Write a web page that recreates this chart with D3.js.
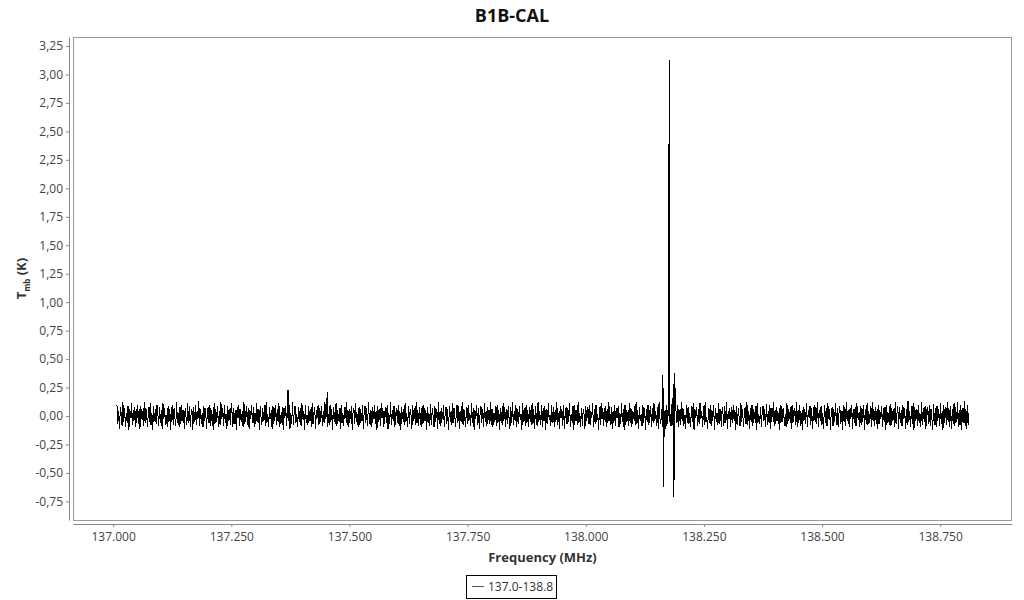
<!DOCTYPE html>
<html>
<head>
<meta charset="utf-8">
<script src="https://cdn.jsdelivr.net/npm/d3@7"></script>
<style>
  body { margin: 0; background: #fff; }
  text { font-family: "Open Sans", "Noto Sans", sans-serif; }
</style>
</head>
<body>
<svg width="1024" height="600"></svg>
<script>
// spectrum header: first and last channel (MHz)
const freqStart = 137.008;
const freqEnd = 138.810;

// baseline channel values (K)
const noise = [
  0.10,-0.07,0.04,-0.11,0.08,0.02,-0.09,0.12,-0.05,0.07,-0.10,0.03,-0.06,0.09,-0.12,0.06,-0.02,0.11,-0.08,0.05,
  -0.04,0.08,-0.10,0.01,0.10,-0.07,0.06,-0.11,0.09,-0.03,0.04,-0.09,0.12,-0.06,0.07,-0.01,-0.10,0.08,-0.05,0.11,
  -0.08,0.03,-0.12,0.09,-0.04,0.06,-0.07,0.10,0.02,-0.09,0.08,-0.06,0.05,-0.11,0.11,-0.03,0.07,-0.08,0.01,-0.10,
  0.09,-0.05,0.06,-0.12,0.04,0.10,-0.08,0.07,-0.02,-0.09,0.12,-0.06,0.03,-0.10,0.08,-0.07,0.10,-0.04,0.05,-0.11,
  0.07,-0.01,-0.08,0.11,-0.06,0.09,-0.10,0.02,0.06,-0.12,0.08,-0.05,0.10,-0.08,0.04,-0.03,0.13,-0.09,0.06,-0.07,
  0.03,-0.10,0.09,-0.04,0.07,-0.11,0.01,0.08,-0.06,0.10,-0.09,0.05,-0.02,-0.12,0.11,-0.07,0.06,-0.05,0.09,-0.10,
  0.04,-0.08,0.12,-0.03,0.07,-0.09,0.10,-0.06,0.02,-0.11,0.09,-0.04,0.06,-0.08,0.11,0.03,-0.10,0.07,-0.07,0.05,
  -0.12,0.08,-0.02,0.10,-0.09,0.06,-0.05,0.04,-0.10,0.12,-0.07,0.01,0.09,-0.08,0.07,-0.11,0.05,-0.03,0.10,-0.06,
  0.08,-0.10,0.03,-0.07,0.11,-0.05,0.06,-0.12,0.09,-0.01,-0.08,0.07,-0.04,0.10,-0.09,0.12,-0.06,0.02,-0.10,0.08,
  -0.03,0.05,-0.11,0.09,-0.07,0.04,0.10,-0.08,0.06,-0.05,0.11,-0.10,0.01,-0.06,0.08,-0.12,0.07,-0.02,0.09,-0.09,
  0.06,-0.04,0.10,-0.11,0.03,-0.07,0.12,-0.08,0.05,0.09,-0.06,0.02,-0.10,0.08,-0.05,0.07,-0.09,0.11,-0.03,0.04,
  -0.12,0.10,-0.06,0.01,-0.08,0.09,-0.04,0.06,-0.10,0.11,-0.07,0.03,0.08,-0.11,0.05,-0.02,0.10,-0.08,0.07,-0.05,
  0.09,-0.09,0.04,-0.06,0.12,-0.03,0.07,-0.10,0.02,-0.08,0.10,-0.05,0.06,-0.12,0.08,0.01,-0.07,0.11,-0.09,0.05,
  -0.04,0.07,-0.11,0.10,-0.06,0.03,-0.09,0.08,-0.02,0.12,-0.08,0.05,-0.10,0.06,-0.03,0.09,-0.12,0.04,0.07,-0.07,
  0.11,-0.05,0.02,-0.10,0.08,-0.08,0.06,-0.04,0.10,-0.11,0.03,0.09,-0.06,0.07,-0.09,0.12,-0.01,-0.08,0.05,-0.10,
  0.08,-0.03,0.10,-0.07,0.04,-0.12,0.09,-0.05,0.06,-0.09,0.11,-0.02,0.07,-0.10,0.01,0.08,-0.06,0.10,-0.11,0.03,
  -0.07,0.12,-0.08,0.05,-0.04,0.09,-0.10,0.02,0.07,-0.06,0.10,-0.09,0.04,-0.12,0.08,-0.03,0.06,-0.08,0.11,-0.05,
  0.03,-0.10,0.09,-0.07,0.06,0.01,-0.11,0.10,-0.04,0.07,-0.08,0.12,-0.06,0.05,-0.09,0.08,-0.02,-0.10,0.09,-0.07,
  0.10,-0.04,0.05,-0.12,0.08,-0.06,0.03,-0.09,0.11,-0.08,0.07,-0.01,-0.10,0.09,-0.05,0.06,-0.11,0.12,-0.07,0.04,
  -0.09,0.07,-0.03,0.10,-0.10,0.02,0.08,-0.07,0.06,-0.12,0.09,-0.05,0.04,-0.08,0.11,-0.06,0.07,-0.10,0.01,0.10,
  -0.06,0.09,-0.11,0.04,-0.05,0.12,-0.08,0.06,-0.02,-0.10,0.08,-0.07,0.10,-0.04,0.03,-0.09,0.11,-0.06,0.07,-0.12,
  0.05,-0.03,0.10,-0.08,0.07,-0.11,0.02,0.09,-0.06,0.06,-0.10,0.11,-0.05,0.04,-0.09,0.08,-0.01,-0.07,0.12,-0.08,
  0.06,-0.10,0.03,-0.05,0.09,-0.09,0.10,-0.06,0.05,-0.12,0.07,0.01,-0.08,0.11,-0.04,0.08,-0.10,0.06,-0.07,0.09,
  -0.02,-0.11,0.08,-0.06,0.12,-0.08,0.04,-0.04,0.10,-0.10,0.06,-0.07,0.09,-0.03,0.02,-0.12,0.11,-0.05,0.07,-0.09,
  0.10,-0.06,0.05,-0.10,0.08,0.03,-0.08,0.11,-0.07,0.06,-0.11,0.09,-0.02,-0.09,0.12,-0.05,0.04,-0.08,0.10,-0.10,
  0.07,-0.04,0.09,-0.12,0.06,-0.07,0.11,-0.03,0.01,-0.09,0.10,-0.06,0.08,-0.10,0.05,-0.05,0.12,-0.08,0.03,-0.11,
  0.09,-0.02,0.06,-0.09,0.10,-0.11,0.04,0.08,-0.07,0.07,-0.05,0.11,-0.10,0.02,-0.06,0.09,-0.12,0.10,-0.04,0.05,
  -0.08,0.12,-0.06,0.03,-0.10,0.07,-0.09,0.06,0.01,-0.11,0.09,-0.04,0.08,-0.07,0.10,-0.08,0.04,-0.02,0.11,-0.10,
  0.06,-0.07,0.10,-0.05,0.02,-0.12,0.08,-0.08,0.11,-0.03,0.07,-0.09,0.05,0.09,-0.10,0.06,-0.06,0.12,-0.01,-0.08,
  0.08,-0.11,0.04,-0.06,0.10,-0.09,0.07,-0.02,0.09,-0.10,0.03,-0.07,0.11,-0.05,0.06,-0.12,0.10,-0.08,0.05,0.01,
  -0.09,0.11,-0.06,0.07,-0.10,0.04,-0.03,0.09,-0.08,0.12,-0.07,0.05,-0.11,0.08,-0.04,0.02,-0.09,0.10,-0.06,0.07,
  -0.12,0.06,-0.05,0.10,-0.08,0.03,0.09,-0.10,0.07,-0.06,0.11,-0.04,0.04,-0.09,0.08,-0.11,0.12,-0.02,-0.07,0.06,
  -0.10,0.09,-0.03,0.05,-0.11,0.10,-0.07,0.08,-0.05,0.02,-0.09,0.11,-0.08,0.06,-0.12,0.07,0.04,-0.06,0.10,-0.10,
  0.05,-0.08,0.12,-0.04,0.07,-0.09,0.01,-0.11,0.10,-0.06,0.08,-0.07,0.03,-0.10,0.09,-0.05,0.11,-0.12,0.06,-0.02,
  0.08,-0.09,0.06,-0.07,0.11,-0.03,0.04,-0.10,0.09,-0.08,0.12,-0.05,-0.01,-0.11,0.07,-0.06,0.10,-0.09,0.05,-0.04,
  0.10,-0.12,0.07,-0.05,0.03,-0.08,0.11,-0.07,0.06,-0.10,0.08,0.02,-0.09,0.09,-0.06,0.12,-0.11,0.04,-0.03,0.07,
  -0.10,0.08,-0.06,0.10,-0.04,0.05,-0.12,0.09,-0.08,0.07,-0.02,-0.09,0.11,-0.05,0.06,-0.10,0.03,0.08,-0.07,0.12,
  -0.08,0.04,-0.11,0.07,-0.05,0.10,-0.09,0.06,-0.03,0.09,-0.12,0.11,-0.06,0.02,-0.07,0.08,-0.10,0.05,0.09,-0.04,
  0.06,-0.10,0.11,-0.08,0.04,-0.06,0.10,-0.11,0.07,-0.01,0.12,-0.09,0.05,-0.07,0.08,-0.04,0.03,-0.12,0.10,-0.06,
  0.09,-0.05,0.07,-0.09,0.02,-0.10,0.11,-0.07,0.06,-0.03,0.08,-0.11,0.10,-0.06,0.04,0.07,-0.08,0.12,-0.10,0.05,
  -0.06,0.10,-0.09,0.03,-0.12,0.08,-0.04,0.06,-0.07,0.11,-0.10,0.05,-0.02,0.09,-0.08,0.07,-0.11,0.01,0.10,-0.05,
  0.08,-0.07,0.12,-0.10,0.05,-0.04,0.09,-0.08,0.03,-0.11,0.10,-0.06,0.07,-0.09,0.11,-0.03,0.06,-0.12,0.04,0.08,
  -0.09,0.06,-0.05,0.11,-0.08,0.07,-0.10,0.02,0.09,-0.07,0.04,-0.12,0.10,-0.05,0.08,-0.09,0.12,-0.04,0.05,-0.10,
  0.07,-0.03,0.10,-0.11,0.06,-0.06,0.08,-0.09,0.11,-0.02,0.03,-0.10,0.09,-0.08,0.07,-0.05,0.10,-0.12,0.06,-0.07,
  0.11,-0.08,0.04,-0.06,0.09,-0.10,0.12,-0.04,0.06,-0.09,0.08,0.01,-0.11,0.10,-0.07,0.05,-0.03,0.09,-0.10,0.07,
  -0.05,0.08,-0.12,0.10,-0.06,0.03,-0.08,0.11,-0.09,0.07,-0.04,0.06,-0.10,0.12,-0.07,0.02,0.09,-0.11,0.08,-0.06,
  0.05,-0.09,0.10,-0.03,0.07,-0.11,0.06,-0.08,0.13,-0.05,0.04,-0.10,0.09,-0.07,0.11,-0.12,0.08,-0.04,0.06,-0.09,
  0.10,-0.06,0.03,-0.10,0.12,-0.08,0.07,-0.05,0.09,-0.11,0.05,0.08,-0.07,0.10,-0.09,0.06,-0.02,-0.12,0.11,-0.08,
  0.07,-0.10,0.09,-0.04,0.06,-0.09,0.11,-0.07,0.04,-0.12,0.10,-0.06,0.08,-0.08,0.12,-0.05,0.07,-0.10,0.09,-0.11,
  0.06,-0.07,0.11,-0.09,0.08,-0.05,0.12,-0.10,0.05,-0.08,0.10,-0.12,0.07,-0.06,0.13,-0.09,0.06,-0.11,0.10,-0.08
];

// lines / spikes on top of the baseline: [MHz, K]
const lineFreqs = [137.370, 137.453, 138.163, 138.1645, 138.1766, 138.185, 138.1865, 138.1885];
const lineTemps = [0.23, 0.21, 0.36, -0.62, 3.13, 0.28, -0.71, 0.38];

const xTicks = [137.0, 137.25, 137.5, 137.75, 138.0, 138.25, 138.5, 138.75];
const yTicks = [-0.75, -0.5, -0.25, 0, 0.25, 0.5, 0.75, 1.0, 1.25, 1.5, 1.75, 2.0, 2.25, 2.5, 2.75, 3.0, 3.25];

const title = "B1B-CAL";
const seriesName = "137.0-138.8";

const svg = d3.select("svg");
const pl = 73, pr = 1012, pt = 37, pb = 520;

const step = (freqEnd - freqStart) / (noise.length - 1);
let data = noise.map((t, i) => ({f: freqStart + i * step, t}));
lineFreqs.forEach((f, i) => data.push({f, t: lineTemps[i]}));
data.sort((a, b) => a.f - b.f);

const x = d3.scaleLinear().domain([136.915, 138.902]).range([pl, pr]);
const y = d3.scaleLinear().domain([-0.913, 3.329]).range([pb, pt]);

// plot frame
svg.append("rect")
  .attr("x", pl + 0.5).attr("y", pt + 0.5)
  .attr("width", pr - pl - 1).attr("height", pb - pt)
  .attr("fill", "none").attr("stroke", "#999");

const line = d3.line().x(d => x(d.f)).y(d => y(d.t));

// the original plot is drawn without anti-aliasing
svg.append("path")
  .datum(data)
  .attr("d", line)
  .attr("fill", "none")
  .attr("stroke", "#000")
  .attr("stroke-width", 1)
  .attr("shape-rendering", "crispEdges");

// x axis
const xAxis = svg.append("g")
  .attr("transform", `translate(0,${pb + 4})`)
  .call(d3.axisBottom(x).tickValues(xTicks).tickFormat(d3.format(".3f")).tickSize(3).tickSizeOuter(0));

// y axis
const comma = d => d3.format(".2f")(d).replace(".", ",").replace("−", "-");
const yAxis = svg.append("g")
  .attr("transform", `translate(${pl - 4},0)`)
  .call(d3.axisLeft(y).tickValues(yTicks).tickFormat(comma).tickSize(3).tickSizeOuter(0));

[xAxis, yAxis].forEach(g => {
  g.select(".domain").attr("stroke", "#888");
  g.selectAll(".tick line").attr("stroke", "#888");
  g.selectAll(".tick text")
    .attr("fill", "#444")
    .style("font-size", "12px")
    .style("font-family", "'Open Sans', 'Noto Sans', sans-serif");
});
xAxis.selectAll(".tick text").attr("dy", "0.9em");
yAxis.selectAll(".tick text").attr("x", -6);

// titles
svg.append("text")
  .attr("x", 512).attr("y", 22)
  .attr("text-anchor", "middle")
  .style("font-size", "18px").style("font-weight", "bold")
  .attr("fill", "#111")
  .text(title);

svg.append("text")
  .attr("x", (pl + pr) / 2).attr("y", 562)
  .attr("text-anchor", "middle")
  .style("font-size", "13px").style("font-weight", "bold")
  .attr("fill", "#333")
  .text("Frequency (MHz)");

const yt = svg.append("text")
  .attr("transform", `translate(26,${(pt + pb) / 2}) rotate(-90)`)
  .attr("text-anchor", "middle")
  .style("font-size", "13px").style("font-weight", "bold")
  .attr("fill", "#333");
yt.append("tspan").text("T");
yt.append("tspan").attr("dy", 4).style("font-size", "8px").text("mb");
yt.append("tspan").attr("dy", -4).text(" (K)");

// legend
const lg = svg.append("g").attr("transform", "translate(466,575)");
lg.append("rect").attr("x", 0.5).attr("y", 0.5).attr("width", 90).attr("height", 23)
  .attr("fill", "#fff").attr("stroke", "#000");
lg.append("line").attr("x1", 6).attr("x2", 18).attr("y1", 11.5).attr("y2", 11.5)
  .attr("stroke", "#555");
lg.append("text").attr("x", 22).attr("y", 16)
  .style("font-size", "12px").attr("fill", "#333")
  .text(seriesName);
</script>
</body>
</html>
